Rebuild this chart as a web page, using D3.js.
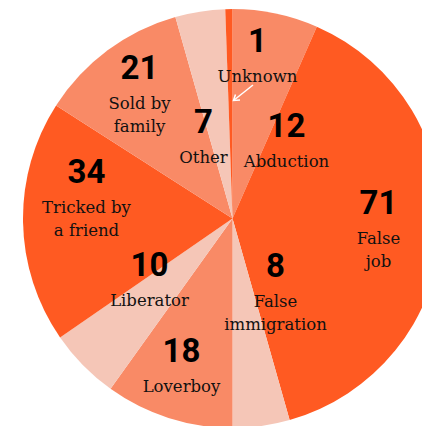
<!DOCTYPE html>
<html>
<head>
<meta charset="utf-8">
<script src="https://cdn.jsdelivr.net/npm/d3@7"></script>
<style>
  html, body { margin: 0; padding: 0; background: #fff; }
  svg { display: block; }
  .num { font-family: Roboto, "DejaVu Sans", sans-serif; font-weight: 700; font-size: 33px; fill: #000; }
  .lbl { font-family: "DejaVu Serif", serif; font-size: 16.5px; fill: #111; }
</style>
</head>
<body>
<svg width="422" height="426"></svg>
<script>
(() => {
  // slices, clockwise from 12 o'clock
  const categories = ['Abduction', 'False job', 'False immigration', 'Loverboy', 'Liberator', 'Tricked by a friend', 'Sold by family', 'Other', 'Unknown'];
  const counts = [12, 71, 8, 18, 10, 34, 21, 7, 1];
  const labelLines = [['Abduction'], ['False', 'job'], ['False', 'immigration'], ['Loverboy'], ['Liberator'], ['Tricked by', 'a friend'], ['Sold by', 'family'], ['Other'], ['Unknown']];
  const shades = ['mid', 'dark', 'light', 'mid', 'light', 'dark', 'mid', 'light', 'dark'];

  const palette = { dark: '#ff5a22', mid: '#f98a66', light: '#f5c6b7' };
  // label anchor (number baseline) relative to pie centre
  const labelAt = [[54, -82], [146, -5], [43, 58], [-51, 143], [-83, 57], [-146, -36], [-93, -140], [-29, -86], [25, -167]];

  const cx = 232.5, cy = 218.5, radius = 209.5;
  const svg = d3.select('svg');
  const g = svg.append('g').attr('transform', 'translate(' + cx + ',' + cy + ')');

  const pie = d3.pie().sort(null).value(d => d.count);
  const arc = d3.arc().innerRadius(0).outerRadius(radius);
  const data = categories.map((c, i) => ({ name: c, count: counts[i], shade: shades[i], lines: labelLines[i], at: labelAt[i] }));

  g.selectAll('path.slice')
    .data(pie(data))
    .enter().append('path')
      .attr('class', 'slice')
      .attr('d', arc)
      .attr('fill', d => palette[d.data.shade]);

  const labels = g.selectAll('g.label')
    .data(data)
    .enter().append('g')
      .attr('class', 'label')
      .attr('transform', d => 'translate(' + d.at[0] + ',' + d.at[1] + ')');

  labels.append('text')
    .attr('class', 'num')
    .attr('text-anchor', 'middle')
    .text(d => d.count);

  labels.each(function(d) {
    const t = d3.select(this).append('text')
      .attr('class', 'lbl')
      .attr('text-anchor', 'middle')
      .attr('y', 30);
    d.lines.forEach((line, j) => {
      t.append('tspan').attr('x', 0).attr('dy', j === 0 ? 0 : 23.5).text(line);
    });
  });

  // little white arrow pointing at the "Unknown" sliver
  const a0 = [253 - cx, 85 - cy], a1 = [233.5 - cx, 100.5 - cy];
  g.append('line')
    .attr('x1', a0[0]).attr('y1', a0[1]).attr('x2', a1[0]).attr('y2', a1[1])
    .attr('stroke', '#fff').attr('stroke-width', 1.5);
  g.append('path')
    .attr('d', 'M' + (a1[0] + 2) + ',' + (a1[1] - 6) + 'L' + a1[0] + ',' + a1[1] + 'L' + (a1[0] + 6.5) + ',' + (a1[1] - 0.5))
    .attr('fill', 'none').attr('stroke', '#fff').attr('stroke-width', 1.5);
})();
</script>
</body>
</html>
